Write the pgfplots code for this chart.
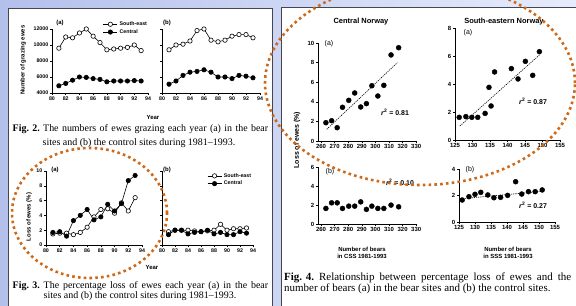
\documentclass[border=0pt]{standalone}
\usepackage{fontspec}
\setmainfont{Liberation Serif}
\setsansfont{Liberation Sans}
\usepackage{pgfplots}
\pgfplotsset{compat=1.18}
\definecolor{dotorange}{RGB}{205,105,25}
\definecolor{bgL}{RGB}{180,192,236}
\definecolor{bgR}{RGB}{230,236,252}
\definecolor{frame}{RGB}{70,70,80}
\newcommand{\tf}{\sffamily\bfseries\fontsize{5.3}{6}\selectfont}
\newcommand{\tff}{\sffamily\bfseries\fontsize{6}{7}\selectfont}
\newcommand{\lf}{\sffamily\bfseries\fontsize{6}{7}\selectfont}
\newcommand{\capfont}{\rmfamily\fontsize{10}{11}\selectfont}
\newcommand{\capfontb}{\rmfamily\fontsize{11}{12}\selectfont}
\newcommand{\ip}[2]{(#1,{305-(#2)})}
\pgfplotsset{
  sci/.style={scale only axis, anchor=south west, axis x line*=bottom, axis y line*=left,
    tick align=outside, major tick length=2bp, enlargelimits=false, clip=false,
    scaled ticks=false,
    ticklabel style={font=\tf}, /pgf/number format/assume math mode=true,
    /pgf/number format/1000 sep={}, axis line style={line width=0.6bp},
    tick style={line width=0.5bp, black}, xticklabel style={inner sep=1.5bp}, yticklabel style={inner sep=1.5bp}},
  se/.style={black, line width=0.6bp, mark=*, mark size=2.2bp, mark options={fill=white, line width=0.6bp}},
  ce/.style={black, line width=0.6bp, mark=*, mark size=2.2bp, mark options={fill=black}},
  sc/.style={only marks, mark=*, mark size=2.5bp, black},
  reg/.style={black, line width=0.6bp, dash pattern=on 1.2bp off 1bp, no marks},
  leg/.style={legend style={at={#1}, anchor=north west, draw=none, fill=none, font=\tf,
    inner sep=0pt, row sep=-1.5bp, cells={anchor=west}},
    legend image code/.code={\draw[mark repeat=2,mark phase=2] plot coordinates {(0,0) (7bp,0) (14bp,0)};}},
}
\begin{document}
\begin{tikzpicture}[x=1bp,y=1bp]
\useasboundingbox (0,0) rectangle (576,305);
\clip (0,0) rectangle (576,305);
\shade[left color=bgL, right color=bgR] (0,0) rectangle (576,305);
\fill[white] (8,-2) rectangle (272,297);
\draw[frame, line width=0.8bp] (8,-2) -- (8,297) -- (272,297) -- (272,-2);
\fill[white] (281,-2) rectangle (580,298);
\draw[frame, line width=0.8bp] (281,-2) -- (281,298) -- (580,298);

% ---------- Fig 2 (a)
\begin{axis}[sci, at={(52bp,212bp)}, width=96bp, height=64bp, xmin=80, xmax=94, ymin=4000, ymax=12000,
  xtick={80,82,...,94}, ytick={4000,6000,...,12000}, leg={(0.53,1.15)}]
\addplot[se] coordinates {(81,9600) (82,11000) (83,10900) (84,11500) (85,12000) (86,11100) (87,10300) (88,9400) (89,9500) (90,9600) (91,9700) (92,10000) (93,9300)};
\addlegendentry{South-east}
\addplot[ce] coordinates {(81,4900) (82,5200) (83,5600) (84,6000) (85,5950) (86,5800) (87,5700) (88,5400) (89,5500) (90,5500) (91,5500) (92,5550) (93,5500)};
\addlegendentry{Central}
\end{axis}
% ---------- Fig 2 (b)
\begin{axis}[sci, at={(162bp,212bp)}, width=98bp, height=64bp, xmin=80, xmax=94, ymin=4000, ymax=12000,
  xtick={80,82,...,94}, ytick={4000,6000,...,12000}, yticklabels={}]
\addplot[se] coordinates {(81,9400) (82,10000) (83,10100) (84,10500) (85,11800) (86,12000) (87,10600) (88,10400) (89,10600) (90,11100) (91,11300) (92,11300) (93,10900)};
\addplot[ce] coordinates {(81,5100) (82,5500) (83,6200) (84,6600) (85,6700) (86,6900) (87,6600) (88,6000) (89,6000) (90,5800) (91,6200) (92,6100) (93,5900)};
\end{axis}

% ---------- Fig 3 (a)
\begin{axis}[sci, at={(46bp,60bp)}, width=96bp, height=74bp, xmin=80, xmax=94, ymin=0, ymax=10,
  xtick={80,82,...,94}, ytick={0,2,...,10}]
\addplot[se] coordinates {(81,1.5) (82,1.6) (83,1.6) (84,1.4) (85,1.7) (86,2.4) (87,3.8) (88,4.8) (89,4.9) (90,4.3) (91,5.7) (92,4.6) (93,6.4)};
\addplot[ce] coordinates {(81,1.7) (82,1.8) (83,1.2) (84,3.3) (85,4.0) (86,4.8) (87,3.4) (88,3.8) (89,5.5) (90,4.6) (91,5.6) (92,8.7) (93,9.4)};
\end{axis}
% ---------- Fig 3 (b)
\begin{axis}[sci, at={(162bp,60bp)}, width=91bp, height=74bp, xmin=80, xmax=94, ymin=0, ymax=10,
  xtick={80,82,...,94}, ytick={0,2,...,10}, yticklabels={}, leg={(0.495,1.0)}]
\addplot[se] coordinates {(81,1.8) (82,2.0) (83,2.0) (84,2.0) (85,1.9) (86,1.8) (87,1.9) (88,2.0) (89,2.8) (90,2.0) (91,2.2) (92,2.2) (93,2.3)};
\addlegendentry{South-east}
\addplot[ce] coordinates {(81,1.4) (82,2.0) (83,2.0) (84,1.5) (85,1.7) (86,1.8) (87,2.0) (88,1.5) (89,1.7) (90,1.4) (91,1.4) (92,1.8) (93,1.6)};
\addlegendentry{Central}
\end{axis}

% ---------- Fig 4 (a) Central
\begin{axis}[sci, at={(318bp,164bp)}, width=99bp, height=98bp, xmin=257.8, xmax=330.6, ymin=0, ymax=10,
  xtick={260,270,...,330}, ytick={0,2,...,10}, ticklabel style={font=\tff}]
\addplot[sc] coordinates {(263.6,1.87) (267.8,2.07) (271.9,1.36) (275.8,3.44) (280.4,4.15) (284.8,4.90) (289.2,3.47) (293.4,3.81) (297.4,5.64) (301.8,4.59) (306.2,5.68) (311.5,8.78) (317.1,9.52)};
\addplot[reg] coordinates {(264.2,1.19) (316.1,7.99)};
\end{axis}
% ---------- Fig 4 (a) South-east
\begin{axis}[sci, at={(455bp,165bp)}, width=105bp, height=112bp, xmin=125, xmax=155, ymin=0, ymax=8,
  xtick={125,130,...,155}, ytick={0,2,...,8}, ticklabel style={font=\tff}]
\addplot[sc] coordinates {(126.2,1.62) (128.1,1.67) (129.8,1.62) (131.5,1.62) (133.6,1.90) (135.3,2.43) (134.7,3.76) (136.3,4.86) (141.1,5.10) (143.0,4.36) (145.1,5.62) (147.2,4.62) (149.1,6.31)};
\addplot[reg] coordinates {(126.4,1.0) (149.1,6.07)};
\end{axis}
% ---------- Fig 4 (b) Central
\begin{axis}[sci, at={(318bp,81bp)}, width=99bp, height=57bp, xmin=257.8, xmax=330.6, ymin=0, ymax=6,
  xtick={260,270,...,330}, ytick={0,2,...,6}, ticklabel style={font=\tff}]
\addplot[sc] coordinates {(263.6,1.64) (267.8,2.23) (271.9,2.23) (275.8,1.64) (280.4,1.88) (284.8,1.88) (289.2,2.33) (293.4,1.54) (297.4,1.88) (301.8,1.64) (306.2,1.64) (311.5,1.99) (317.1,1.81)};
\end{axis}
% ---------- Fig 4 (b) South-east
\begin{axis}[sci, at={(459bp,83bp)}, width=96bp, height=53bp, xmin=125, xmax=155, ymin=0, ymax=4,
  xtick={125,130,...,155}, ytick={0,2,4}, ticklabel style={font=\tff}]
\addplot[sc] coordinates {(126.0,1.66) (128.1,1.91) (130.0,2.09) (131.8,2.24) (134.0,2.04) (135.9,1.83) (138.0,1.86) (140.2,2.01) (142.7,3.04) (144.6,2.11) (146.7,2.29) (148.8,2.29) (151.0,2.42)};
\addplot[reg] coordinates {(125.5,1.75) (151.3,2.32)};
\end{axis}

% ---------- texts
\node[font=\tff] at \ip{60}{23} {(a)};
\node[font=\tff] at \ip{167}{23} {(b)};
\node[font=\lf, rotate=90] at \ip{23}{60} {Number of grazing ewes};
\node[font=\lf] at \ip{153}{117} {Year};
\node[font=\capfont, inner sep=0, anchor=west] at \ip{12.5}{129} {\makebox[255.5bp][s]{\textbf{\mbox{Fig. 2.}} The numbers of ewes grazing each year (a) in the bear}};
\node[font=\capfont, inner sep=0] at \ip{139}{143} {sites and (b) the control sites during 1981--1993.};

\node[font=\tff] at \ip{55}{170} {(a)};
\node[font=\tff] at \ip{167}{170} {(b)};
\node[font=\lf, rotate=90] at \ip{29}{217} {Loss of ewes (\%)};
\node[font=\lf] at \ip{152}{267} {Year};
\node[font=\capfont, inner sep=0, anchor=west] at \ip{12.5}{286} {\makebox[255.5bp][s]{\textbf{\mbox{Fig. 3.}} The percentage loss of ewes each year (a) in the bear}};
\node[font=\capfont, inner sep=0] at \ip{140}{296} {sites and (b) the control sites during 1981--1993.};

\node[font=\sffamily\bfseries\fontsize{7.5}{8}\selectfont] at \ip{361}{22} {Central Norway};
\node[font=\sffamily\bfseries\fontsize{7.5}{8}\selectfont] at \ip{504}{22} {South-eastern Norway};
\node[font=\sffamily\fontsize{7}{8}\selectfont] at \ip{329}{44} {(a)};
\node[font=\sffamily\fontsize{7}{8}\selectfont] at \ip{468}{33} {(a)};
\node[font=\sffamily\fontsize{7}{8}\selectfont] at \ip{330}{172} {(b)};
\node[font=\sffamily\fontsize{7}{8}\selectfont] at \ip{470}{170} {(b)};
\node[font=\sffamily\bfseries\fontsize{7}{8}\selectfont] at \ip{395}{112} {\textit{r}\textsuperscript{2} = 0.81};
\node[font=\sffamily\bfseries\fontsize{7}{8}\selectfont] at \ip{533}{101} {\textit{r}\textsuperscript{2} = 0.87};
\node[font=\sffamily\bfseries\fontsize{7}{8}\selectfont] at \ip{400}{182} {\textit{r}\textsuperscript{2} = 0.10};
\node[font=\sffamily\bfseries\fontsize{7}{8}\selectfont] at \ip{533}{205} {\textit{r}\textsuperscript{2} = 0.27};
\node[font=\sffamily\bfseries\fontsize{7}{8}\selectfont, rotate=90] at \ip{297}{140} {Loss of ewes (\%)};
\node[font=\lf, align=center] at \ip{362}{253} {Number of bears\\in CSS 1981-1993};
\node[font=\lf, align=center] at \ip{508}{253} {Number of bears\\in SSS 1981-1993};
\node[font=\capfontb, inner sep=0, anchor=west] at \ip{284}{278} {\makebox[287bp][s]{\textbf{\mbox{Fig. 4.}} Relationship between percentage loss of ewes and the}};
\node[font=\capfontb, inner sep=0, anchor=west] at \ip{284}{289} {number of bears (a) in the bear sites and (b) the control sites.};

% ---------- orange dotted ellipses
\draw[dotorange, line width=2.6bp, dash pattern=on 2.6bp off 3.2bp] \ip{89.5}{213} ellipse [x radius=77.5, y radius=65];
\draw[dotorange, line width=2.6bp, dash pattern=on 2.6bp off 3.2bp] \ip{420}{83} ellipse [x radius=155, y radius=102];
\end{tikzpicture}
\end{document}
